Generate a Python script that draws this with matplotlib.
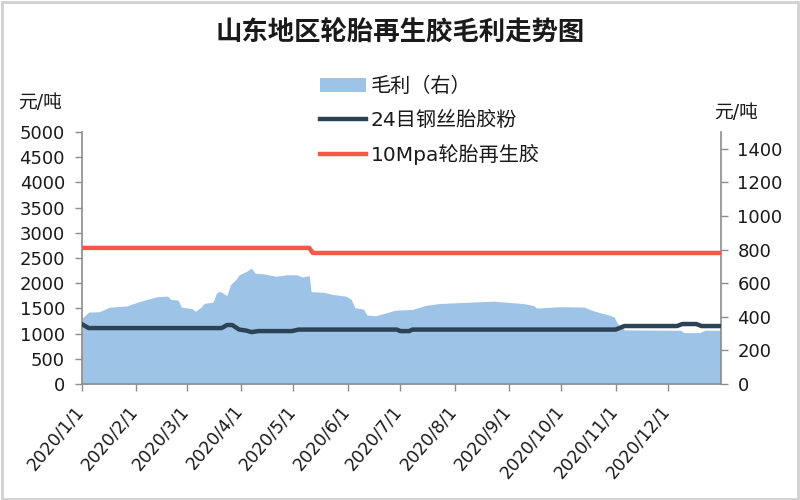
import matplotlib
matplotlib.use("Agg")
import matplotlib.pyplot as plt
import matplotlib.dates as mdates
import matplotlib.transforms as mtransforms
import pandas as pd
from matplotlib.lines import Line2D
from matplotlib.patches import Patch, Rectangle
from matplotlib.ticker import FuncFormatter

plt.rcParams['font.family'] = ['DejaVu Sans', 'Noto Sans CJK SC']

title = "山东地区轮胎再生胶毛利走势图"
unit = "元/吨"
margin_label = "毛利（右）"
powder_label = "24目钢丝胎胶粉"
rubber_label = "10Mpa轮胎再生胶"

# 毛利 (right axis)
margin_dates = ["2020-01-01", "2020-01-05", "2020-01-11", "2020-01-17", "2020-01-27", "2020-01-30",
                "2020-02-07", "2020-02-13", "2020-02-19", "2020-02-21", "2020-02-25", "2020-02-27",
                "2020-03-04", "2020-03-06", "2020-03-09", "2020-03-11", "2020-03-16", "2020-03-18",
                "2020-03-20", "2020-03-24", "2020-03-26", "2020-03-29", "2020-03-31", "2020-04-04",
                "2020-04-07", "2020-04-09", "2020-04-15", "2020-04-21", "2020-04-27", "2020-05-03",
                "2020-05-06", "2020-05-10", "2020-05-11", "2020-05-18", "2020-05-24", "2020-05-31",
                "2020-06-03", "2020-06-05", "2020-06-10", "2020-06-12", "2020-06-17", "2020-06-23",
                "2020-06-28", "2020-07-08", "2020-07-15", "2020-07-23", "2020-08-14", "2020-08-23",
                "2020-09-09", "2020-09-15", "2020-09-17", "2020-09-30", "2020-10-14", "2020-10-18",
                "2020-10-23", "2020-10-27", "2020-10-31", "2020-11-02", "2020-11-06", "2020-12-08",
                "2020-12-10", "2020-12-19", "2020-12-22", "2020-12-31"]
margin_values = [389, 428, 430, 457, 465, 477,
                 503, 519, 523, 503, 500, 458,
                 448, 433, 456, 480, 487, 542,
                 552, 526, 591, 621, 650, 670,
                 690, 660, 654, 641, 650, 650,
                 637, 645, 550, 546, 532, 523,
                 503, 454, 446, 410, 406, 424,
                 439, 444, 467, 479, 489, 493,
                 479, 467, 452, 460, 458, 440,
                 424, 414, 400, 360, 322, 320,
                 306, 306, 320, 320]

# 24目钢丝胎胶粉 (left axis)
powder_dates = ["2020-01-01", "2020-01-05", "2020-03-21", "2020-03-24", "2020-03-27", "2020-03-31",
                "2020-04-04", "2020-04-07", "2020-04-11", "2020-04-30", "2020-05-04", "2020-06-29",
                "2020-07-01", "2020-07-06", "2020-07-08", "2020-11-01", "2020-11-06", "2020-12-06",
                "2020-12-09", "2020-12-17", "2020-12-20", "2020-12-31"]
powder_values = [1190, 1110, 1110, 1170, 1170, 1080,
                 1060, 1030, 1050, 1050, 1080, 1080,
                 1050, 1050, 1080, 1080, 1150, 1150,
                 1190, 1190, 1150, 1150]

# 10Mpa轮胎再生胶 (left axis)
rubber_dates = ["2020-01-01", "2020-05-10", "2020-05-12", "2020-12-31"]
rubber_values = [2700, 2700, 2600, 2600]

area_color = "#9dc3e6"
powder_color = "#2c4355"
rubber_color = "#f4584a"
axis_color = "#8c8c8c"
text_color = "#1a1a1a"

fig = plt.figure(figsize=(8, 5), dpi=100)
fig.patches.append(Rectangle((0.002, 0.003), 0.996, 0.994, transform=fig.transFigure,
                             fill=False, edgecolor="#d0d0d0", linewidth=2))

ax = fig.add_axes([0.102, 0.232, 0.799, 0.504])
ax.fill_between(pd.to_datetime(margin_dates), margin_values, color=area_color, linewidth=0)
ax.set_ylim(0, 1500)
ax.set_yticks(range(0, 1401, 200))

ax2 = ax.twinx()
ax2.plot(pd.to_datetime(powder_dates), powder_values, color=powder_color, linewidth=3.2,
         solid_capstyle="round", solid_joinstyle="round")
ax2.plot(pd.to_datetime(rubber_dates), rubber_values, color=rubber_color, linewidth=3.2,
         solid_capstyle="round", solid_joinstyle="round")
ax2.set_ylim(0, 5000)
ax2.set_yticks(range(0, 5001, 500))
ax2.yaxis.tick_left()
ax.yaxis.tick_right()

ax.set_xlim(pd.Timestamp("2020-01-01"), pd.Timestamp("2020-12-31"))
ax.xaxis.set_major_locator(mdates.MonthLocator())
ax.xaxis.set_major_formatter(FuncFormatter(
    lambda v, _: (lambda d: f"{d.year}/{d.month}/{d.day}")(mdates.num2date(v))))

for a in (ax, ax2):
    for s in a.spines.values():
        s.set_visible(False)
for s in ("left", "right", "bottom"):
    ax.spines[s].set_visible(True)
    ax.spines[s].set_color(axis_color)
    ax.spines[s].set_linewidth(1.2)

ax.tick_params(axis="y", colors=axis_color, labelcolor=text_color, length=5, width=1, labelsize=13, pad=7)
ax2.tick_params(axis="y", colors=axis_color, labelcolor=text_color, length=5, width=1, labelsize=13, pad=7)
ax.tick_params(axis="x", colors=axis_color, labelcolor=text_color, length=5, width=1, labelsize=12.5, pad=8)
shift = mtransforms.ScaledTranslation(-8 / 100, 0, fig.dpi_scale_trans)
for lbl in ax.get_xticklabels():
    lbl.set_rotation(50)
    lbl.set_ha("right")
    lbl.set_va("top")
    lbl.set_rotation_mode("anchor")
    lbl.set_transform(lbl.get_transform() + shift)

fig.text(0.5, 1 - 34 / 500, title, ha="center", va="center", fontsize=19, fontweight="bold",
         color=text_color)
fig.text(18 / 800, 1 - 103 / 500, unit, ha="left", va="center", fontsize=13.5, color=text_color)
fig.text(714 / 800, 1 - 113 / 500, unit, ha="left", va="center", fontsize=13.5, color=text_color)

handles = [Patch(facecolor=area_color, edgecolor="none"),
           Line2D([], [], color=powder_color, linewidth=3.2),
           Line2D([], [], color=rubber_color, linewidth=3.2)]
ax2.legend(handles, [margin_label, powder_label, rubber_label], loc="upper left",
           bbox_to_anchor=(320 / 800, 1 - 77 / 500), bbox_transform=fig.transFigure,
           frameon=False, fontsize=14.5, handlelength=2.3, handletextpad=0.2,
           labelspacing=0.72, borderaxespad=0, borderpad=0, labelcolor=text_color)

fig.savefig("out.png", dpi=100)
